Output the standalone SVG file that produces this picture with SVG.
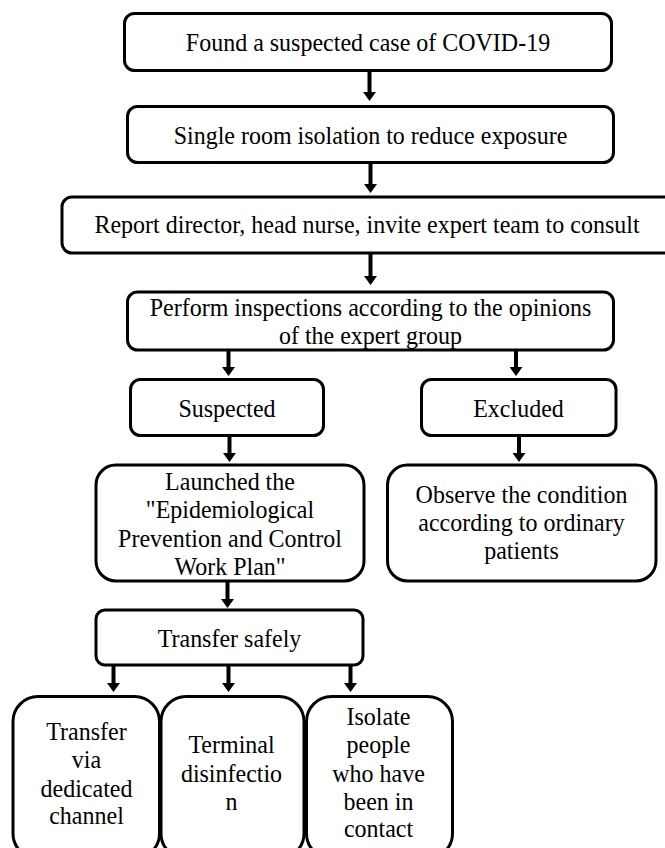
<svg xmlns="http://www.w3.org/2000/svg" width="665" height="848" viewBox="0 0 665 848">
<style>
.box{fill:#fff;stroke:#000;stroke-width:3}
.t{font-family:"Liberation Serif","Times New Roman",serif;font-size:26px;fill:#000;text-anchor:middle}
.c{stroke:#000;stroke-width:4;fill:none;marker-end:url(#ah)}
</style>
<defs>
<marker id="ah" markerUnits="userSpaceOnUse" viewBox="0 -6.5 9 13" markerWidth="9" markerHeight="13" refX="0" refY="0" orient="auto">
<path d="M0,-6.5 L9,0 L0,6.5 Z" fill="#000"/>
</marker>
</defs>
<rect width="665" height="848" fill="#fff"/>
<g id="connectors">
<line class="c" x1="369.5" y1="72" x2="369.5" y2="92"/>
<line class="c" x1="370.5" y1="164" x2="370.5" y2="184"/>
<line class="c" x1="370.5" y1="254" x2="370.5" y2="276"/>
<line class="c" x1="228.5" y1="351" x2="228.5" y2="367"/>
<line class="c" x1="516" y1="351" x2="516" y2="367"/>
<line class="c" x1="229.5" y1="437" x2="229.5" y2="453"/>
<line class="c" x1="519" y1="437" x2="519" y2="453"/>
<line class="c" x1="227.5" y1="582" x2="227.5" y2="599"/>
<line class="c" x1="113.5" y1="666" x2="113.5" y2="683"/>
<line class="c" x1="228.5" y1="666" x2="228.5" y2="683"/>
<line class="c" x1="350.5" y1="666" x2="350.5" y2="683"/>
</g>
<g id="n1">
<rect class="box" x="124.5" y="13.5" width="487" height="57" rx="10"/>
<text class="t" transform="translate(368 51) scale(0.923 1)">Found a suspected case of COVID-19</text>
</g>
<g id="n2">
<rect class="box" x="127.5" y="106.5" width="486" height="56" rx="10"/>
<text class="t" transform="translate(370.5 143.5) scale(0.923 1)">Single room isolation to reduce exposure</text>
</g>
<g id="n3">
<rect class="box" x="62" y="197" width="615" height="56" rx="10"/>
<text class="t" transform="translate(367 233) scale(0.923 1)">Report director, head nurse, invite expert team to consult</text>
</g>
<g id="n4">
<rect class="box" x="127.5" y="292" width="486" height="58" rx="10"/>
<text class="t" transform="translate(370.5 316) scale(0.923 1)">Perform inspections according to the opinions</text>
<text class="t" transform="translate(370.5 344) scale(0.923 1)">of the expert group</text>
</g>
<g id="n5">
<rect class="box" x="130.5" y="379.5" width="193" height="56" rx="10"/>
<text class="t" transform="translate(227 416.5) scale(0.923 1)">Suspected</text>
</g>
<g id="n6">
<rect class="box" x="421.5" y="379.5" width="194.5" height="56" rx="10"/>
<text class="t" transform="translate(518.5 416.5) scale(0.923 1)">Excluded</text>
</g>
<g id="n7">
<rect class="box" x="96" y="465" width="268" height="116" rx="20"/>
<text class="t" transform="translate(230 490) scale(0.923 1)">Launched the</text>
<text class="t" transform="translate(230 518.3) scale(0.923 1)">"Epidemiological</text>
<text class="t" transform="translate(230 546.7) scale(0.923 1)">Prevention and Control</text>
<text class="t" transform="translate(230 575) scale(0.923 1)">Work Plan"</text>
</g>
<g id="n8">
<rect class="box" x="387.5" y="465" width="268.5" height="116" rx="20"/>
<text class="t" transform="translate(521.5 502.7) scale(0.923 1)">Observe the condition</text>
<text class="t" transform="translate(521.5 531) scale(0.923 1)">according to ordinary</text>
<text class="t" transform="translate(521.5 559.3) scale(0.923 1)">patients</text>
</g>
<g id="n9">
<rect class="box" x="96" y="610" width="267" height="55" rx="9"/>
<text class="t" transform="translate(229.5 646.5) scale(0.923 1)">Transfer safely</text>
</g>
<g id="n10">
<rect class="box" x="13" y="696.5" width="146.5" height="162" rx="25"/>
<text class="t" transform="translate(86.5 740) scale(0.923 1)">Transfer</text>
<text class="t" transform="translate(86.5 768.3) scale(0.923 1)">via</text>
<text class="t" transform="translate(86.5 796.7) scale(0.923 1)">dedicated</text>
<text class="t" transform="translate(86.5 824) scale(0.923 1)">channel</text>
</g>
<g id="n11">
<rect class="box" x="161" y="696.5" width="143" height="162" rx="25"/>
<text class="t" transform="translate(231.5 753.3) scale(0.923 1)">Terminal</text>
<text class="t" transform="translate(231.5 782) scale(0.923 1)">disinfectio</text>
<text class="t" transform="translate(231.5 810) scale(0.923 1)">n</text>
</g>
<g id="n12">
<rect class="box" x="306.5" y="696.5" width="146" height="162" rx="25"/>
<text class="t" transform="translate(378.5 725) scale(0.923 1)">Isolate</text>
<text class="t" transform="translate(378.5 753.3) scale(0.923 1)">people</text>
<text class="t" transform="translate(378.5 781.7) scale(0.923 1)">who have</text>
<text class="t" transform="translate(378.5 810) scale(0.923 1)">been in</text>
<text class="t" transform="translate(378.5 837.3) scale(0.923 1)">contact</text>
</g>
</svg>
